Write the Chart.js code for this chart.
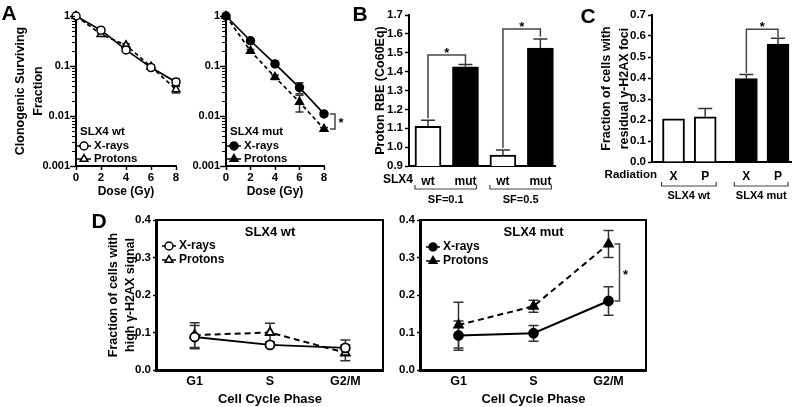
<!DOCTYPE html>
<html><head><meta charset="utf-8">
<script src="https://cdn.jsdelivr.net/npm/chart.js@4.4.1/dist/chart.umd.min.js"></script>
<style>
html,body{margin:0;padding:0;background:#fff;}
#wrap{position:relative;width:800px;height:407px;overflow:hidden;background:#fff;}
#wrap canvas{position:absolute;left:0;top:0;}
.lbl{position:absolute;font-family:'Liberation Sans',Arial,sans-serif;font-weight:bold;color:#000;line-height:1;transform:translate(-50%,-50%);white-space:nowrap;}
</style></head><body>
<div id="wrap">
<canvas id="cA1" width="800" height="407"></canvas>
<canvas id="cA2" width="800" height="407"></canvas>
<canvas id="cB" width="800" height="407"></canvas>
<canvas id="cC" width="800" height="407"></canvas>
<canvas id="cD1" width="800" height="407"></canvas>
<canvas id="cD2" width="800" height="407"></canvas>
<div class="lbl" style="left:9px;top:12px;font-size:21px">A</div>
<div class="lbl" style="left:360px;top:13px;font-size:21px">B</div>
<div class="lbl" style="left:588px;top:15px;font-size:21px">C</div>
<div class="lbl" style="left:99px;top:220px;font-size:21px">D</div>
</div>
<script>
// ---------------- DATA ----------------
// Panel A: clonogenic survival (log scale)
const doses = [0, 2, 4, 6, 8];
const survTicks = [1, 0.1, 0.01, 0.001];
const wtXrays = [1, 0.52, 0.21, 0.093, 0.048];
const wtXraysErr = [0, 0.04, 0.015, 0.008, 0.007];
const wtProtons = [1, 0.43, 0.26, 0.097, 0.034];
const wtProtonsErr = [0, 0.03, 0.02, 0.008, 0.005];
const mutXrays = [1, 0.32, 0.11, 0.037, 0.011];
const mutXraysErr = [0, 0.03, 0.008, 0.009, 0.0008];
const mutProtons = [1, 0.20, 0.060, 0.019, 0.0055];
const mutProtonsErr = [0, 0.015, 0.006, 0.007, 0.0004];

// Panel B: proton RBE
const rbeGenotypes = ['wt', 'mut', 'wt', 'mut'];
const rbeValues = [1.11, 1.426, 0.958, 1.525];
const rbeErr = [0.032, 0.012, 0.027, 0.048];
const rbeGroups = ['SF=0.1', 'SF=0.5'];
const rbeTicks = [0.9, 1.7];

// Panel C: residual gamma-H2AX foci
const fociRadiation = ['X', 'P', 'X', 'P'];
const fociValues = [0.205, 0.215, 0.397, 0.561];
const fociErr = [0, 0.04, 0.02, 0.028];
const fociGroups = ['SLX4 wt', 'SLX4 mut'];

// Panel D: high gamma-H2AX by cell cycle phase
const phases = ['G1', 'S', 'G2/M'];
const dWtXrays = [0.088, 0.067, 0.059];
const dWtXraysErr = [0.031, 0.004, 0.021];
const dWtProtons = [0.093, 0.100, 0.046];
const dWtProtonsErr = [0.033, 0.025, 0.021];
const dMutXrays = [0.092, 0.098, 0.184];
const dMutXraysErr = [0.039, 0.021, 0.038];
const dMutProtons = [0.120, 0.170, 0.336];
const dMutProtonsErr = [0.061, 0.016, 0.036];

// ---------------- SETUP ----------------
const FONT = "'Liberation Sans', Arial, Helvetica, sans-serif";
Chart.defaults.font.family = FONT;
Chart.defaults.font.weight = 'bold';
Chart.defaults.font.size = 11;
Chart.defaults.color = '#000';
Chart.defaults.animation = false;
Chart.defaults.responsive = false;
Chart.defaults.maintainAspectRatio = false;
Chart.defaults.devicePixelRatio = 1;
Chart.defaults.events = [];
Chart.defaults.plugins.legend.display = false;
Chart.defaults.plugins.tooltip.enabled = false;

const W = 800, H = 407;
function layoutFor(a, yW, xH) {
  return { padding: { left: a.l - yW, top: a.t, right: W - a.r, bottom: H - a.b - xH } };
}
const fixW = w => s => { s.width = w; };
const fixH = h => s => { s.height = h; };
const BORDER = { display: true, color: '#000', width: 2 };

function txt(ctx, s, x, y, size, align, base) {
  ctx.save();
  ctx.font = 'bold ' + size + 'px ' + FONT;
  ctx.fillStyle = '#000';
  ctx.textAlign = align || 'center';
  ctx.textBaseline = base || 'middle';
  ctx.fillText(s, x, y);
  ctx.restore();
}
function poly(ctx, pts, color, lw) {
  ctx.save();
  ctx.strokeStyle = color || '#000';
  ctx.lineWidth = lw || 1.5;
  ctx.setLineDash([]);
  ctx.beginPath();
  pts.forEach((p, i) => i ? ctx.lineTo(p[0], p[1]) : ctx.moveTo(p[0], p[1]));
  ctx.stroke();
  ctx.restore();
}
function sigOver(ctx, x1, x2, yLine, y1, y2) {
  poly(ctx, [[x1, y1], [x1, yLine], [x2, yLine], [x2, y2]], '#444', 1.5);
  txt(ctx, '*', (x1 + x2) / 2, yLine + 2, 13, 'center', 'alphabetic');
}
function sigSide(ctx, x, y1, y2) {
  poly(ctx, [[x - 5, y1], [x, y1], [x, y2], [x - 5, y2]], '#444', 1.5);
  txt(ctx, '*', x + 6, (y1 + y2) / 2 + 6, 13, 'center', 'alphabetic');
}
function groupBracket(ctx, xa, xb, y, label, ty) {
  poly(ctx, [[xa, y - 4], [xa, y], [xb, y], [xb, y - 4]], '#444', 1.2);
  txt(ctx, label, (xa + xb) / 2, ty, 11);
}
function legendRow(ctx, mx, tx, y, style, filled, dashed, label, size) {
  poly(ctx, [[mx - 7, y], [mx + 7, y]], '#000', 1.5);
  ctx.save();
  ctx.fillStyle = filled ? '#000' : '#fff';
  ctx.strokeStyle = '#000';
  ctx.lineWidth = 1.5;
  Chart.helpers.drawPoint(ctx, { pointStyle: style, radius: style === 'triangle' ? 4.5 : 4, borderWidth: 1.5, rotation: 0 }, mx, y);
  ctx.restore();
  txt(ctx, label, tx, y, size, 'left');
}

const errorBarPlugin = {
  id: 'errorBars',
  beforeDatasetsDraw(chart) {
    const ctx = chart.ctx, ys = chart.scales.y;
    chart.data.datasets.forEach((ds, i) => {
      if (!ds.yErr) return;
      const meta = chart.getDatasetMeta(i);
      ctx.save();
      ctx.strokeStyle = ds.errColor || '#333';
      ctx.lineWidth = 1.5;
      ctx.setLineDash([]);
      meta.data.forEach((el, j) => {
        const e = ds.yErr[j];
        if (!e) return;
        const raw = ds.data[j];
        const v = (raw && typeof raw === 'object') ? raw.y : raw;
        const x = el.x;
        const yc = ys.getPixelForValue(v);
        const yh = ys.getPixelForValue(v + e);
        const yl = ds.errUpOnly ? yc : ys.getPixelForValue(v - e);
        const cw = ds.capHalf || 5;
        ctx.beginPath();
        ctx.moveTo(x, yl); ctx.lineTo(x, yh);
        ctx.moveTo(x - cw, yh); ctx.lineTo(x + cw, yh);
        if (!ds.errUpOnly) { ctx.moveTo(x - cw, yl); ctx.lineTo(x + cw, yl); }
        ctx.stroke();
      });
      ctx.restore();
    });
  }
};

function isDecade(v) { const l = Math.log10(v); return Math.abs(l - Math.round(l)) < 1e-9; }
function logTicks(scale) {
  const t = [];
  for (let e = -3; e <= 0; e++) {
    for (let m = 1; m <= 9; m++) {
      t.push({ value: m * Math.pow(10, e) });
      if (e === 0) break;
    }
  }
  scale.ticks = t;
}
function logLabel(v) {
  if (!isDecade(v)) return '';
  const s = survTicks.find(s => Math.abs(s - v) < s * 1e-6);
  return s === undefined ? '' : String(s);
}
const logMinorTicks = {
  id: 'logMinorTicks',
  afterDraw(chart) {
    const ys = chart.scales.y, ctx = chart.ctx, x0 = chart.chartArea.left - 1;
    ys.ticks.forEach(t => {
      const py = Math.round(ys.getPixelForValue(t.value)) + 0.5;
      const len = isDecade(t.value) ? 5 : 3;
      poly(ctx, [[x0 - len, py], [x0, py]], '#000', isDecade(t.value) ? 1.5 : 1);
    });
  }
};

function survDatasets(xr, xrErr, pr, prErr, filled) {
  return [
    { label: 'X-rays', data: doses.map((d, i) => ({ x: d, y: xr[i] })), yErr: xrErr, capHalf: 4,
      borderColor: '#000', borderWidth: 1.7, pointStyle: 'circle', pointRadius: 4,
      pointBackgroundColor: filled ? '#000' : '#fff', pointBorderColor: '#000', pointBorderWidth: 1.5, clip: 10 },
    { label: 'Protons', data: doses.map((d, i) => ({ x: d, y: pr[i] })), yErr: prErr, capHalf: 4,
      borderColor: '#000', borderWidth: 1.7, borderDash: [4, 3], pointStyle: 'triangle', pointRadius: 4.5,
      pointBackgroundColor: filled ? '#000' : '#fff', pointBorderColor: '#000', pointBorderWidth: 1.5, clip: 10 }
  ];
}
function survScales(yW, xH, yTitle) {
  return {
    x: { type: 'linear', min: 0, max: 8,
      ticks: { stepSize: 2, padding: 1, font: { size: 11.5 } },
      grid: { drawOnChartArea: false, tickLength: 4, tickColor: '#000', tickWidth: 1.5 },
      border: BORDER,
      title: { display: true, text: 'Dose (Gy)', font: { size: 12 }, padding: 0 },
      afterFit: fixH(xH) },
    y: { type: 'logarithmic', min: 0.001, max: 1, afterBuildTicks: logTicks,
      ticks: { callback: logLabel, padding: 6, autoSkip: false, font: { size: 11 } },
      grid: { drawOnChartArea: false, drawTicks: false },
      border: BORDER,
      title: { display: !!yTitle, text: yTitle || '', font: { size: 12.5, lineHeight: 1.45 }, padding: 0 },
      afterFit: fixW(yW) }
  };
}

// ---------------- PANEL A (wt) ----------------
const aA1 = { l: 76, t: 16, r: 176, b: 166 };
new Chart(document.getElementById('cA1'), {
  type: 'line',
  data: { datasets: survDatasets(wtXrays, wtXraysErr, wtProtons, wtProtonsErr, false) },
  options: { layout: layoutFor(aA1, 65, 33), scales: survScales(65, 33, ['Clonogenic Surviving', 'Fraction']) },
  plugins: [errorBarPlugin, logMinorTicks, { id: 'legA1', afterDraw(c) {
    const ctx = c.ctx, L = c.chartArea.left;
    txt(ctx, 'SLX4 wt', L + 4, 132, 11.5, 'left');
    legendRow(ctx, L + 8, L + 18, 146, 'circle', false, false, 'X-rays', 11.5);
    legendRow(ctx, L + 8, L + 18, 159, 'triangle', false, true, 'Protons', 11.5);
  } }]
});

// ---------------- PANEL A (mut) ----------------
const aA2 = { l: 226, t: 16, r: 324, b: 166 };
new Chart(document.getElementById('cA2'), {
  type: 'line',
  data: { datasets: survDatasets(mutXrays, mutXraysErr, mutProtons, mutProtonsErr, true) },
  options: { layout: layoutFor(aA2, 45, 33), scales: survScales(45, 33, null) },
  plugins: [errorBarPlugin, logMinorTicks, { id: 'legA2', afterDraw(c) {
    const ctx = c.ctx, L = c.chartArea.left, xs = c.scales.x, ys = c.scales.y;
    txt(ctx, 'SLX4 mut', L + 4, 132, 11.5, 'left');
    legendRow(ctx, L + 8, L + 18, 146, 'circle', true, false, 'X-rays', 11.5);
    legendRow(ctx, L + 8, L + 18, 159, 'triangle', true, true, 'Protons', 11.5);
    const n = doses.length - 1;
    sigSide(ctx, xs.getPixelForValue(doses[n]) + 11, ys.getPixelForValue(mutXrays[n]), ys.getPixelForValue(mutProtons[n]));
  } }]
});

// ---------------- PANEL B ----------------
const aB = { l: 409, t: 15, r: 555, b: 166 };
const posB = rbeGenotypes.map((_, i) => i);
new Chart(document.getElementById('cB'), {
  type: 'bar',
  data: { datasets: [{
    data: posB.map((p, i) => ({ x: p, y: rbeValues[i] })),
    backgroundColor: rbeGenotypes.map(g => g === 'wt' ? '#fff' : '#000'),
    borderColor: '#000', borderWidth: 2, barThickness: 26,
    yErr: rbeErr, errUpOnly: true, capHalf: 7, errColor: '#333'
  }] },
  options: {
    layout: layoutFor(aB, 38, 30),
    scales: {
      x: { type: 'linear', min: -0.507, max: 3.39, offset: false,
        afterBuildTicks: s => { s.ticks = posB.map(v => ({ value: v })); },
        ticks: { autoSkip: false, padding: 8, font: { size: 12 }, callback: (v, i) => rbeGenotypes[i] },
        grid: { drawOnChartArea: false, drawTicks: false, offset: false },
        border: BORDER, afterFit: fixH(30) },
      y: { min: rbeTicks[0], max: rbeTicks[1],
        ticks: { stepSize: 0.1, padding: 2, font: { size: 11.5 }, callback: v => v.toFixed(1) },
        grid: { drawOnChartArea: false, tickLength: 4, tickColor: '#000', tickWidth: 1.5 },
        border: BORDER,
        title: { display: true, text: 'Proton RBE (Co60Eq)', font: { size: 12.5, lineHeight: 1.45 }, padding: 0 },
        afterFit: fixW(38) }
    }
  },
  plugins: [errorBarPlugin, { id: 'extB', afterDraw(c) {
    const ctx = c.ctx, xs = c.scales.x, ys = c.scales.y, L = c.chartArea.left;
    const px = posB.map(p => xs.getPixelForValue(p));
    txt(ctx, 'SLX4', L + 4, 180, 12, 'right');
    groupBracket(ctx, px[0] - 13, px[1] + 11, 189, rbeGroups[0], 200);
    groupBracket(ctx, px[2] - 13, px[3] + 11, 189, rbeGroups[1], 200);
    sigOver(ctx, px[0], px[1], ys.getPixelForValue(1.488), ys.getPixelForValue(1.153), ys.getPixelForValue(1.44));
    sigOver(ctx, px[2], px[3], ys.getPixelForValue(1.626), ys.getPixelForValue(0.995), ys.getPixelForValue(1.585));
  } }]
});

// ---------------- PANEL C ----------------
const aC = { l: 652, t: 15, r: 791, b: 162 };
const posC = fociRadiation.map((_, i) => i + (i >= 2 ? 0.3 : 0));
new Chart(document.getElementById('cC'), {
  type: 'bar',
  data: { datasets: [{
    data: posC.map((p, i) => ({ x: p, y: fociValues[i] })),
    backgroundColor: posC.map((_, i) => i < 2 ? '#fff' : '#000'),
    borderColor: '#000', borderWidth: 2, barThickness: 22,
    yErr: fociErr, errUpOnly: true, capHalf: 7, errColor: '#333'
  }] },
  options: {
    layout: layoutFor(aC, 54, 30),
    scales: {
      x: { type: 'linear', min: -0.68, max: 3.71, offset: false,
        afterBuildTicks: s => { s.ticks = posC.map(v => ({ value: v })); },
        ticks: { autoSkip: false, padding: 7, font: { size: 12 }, callback: (v, i) => fociRadiation[i] },
        grid: { drawOnChartArea: false, drawTicks: false, offset: false },
        border: BORDER, afterFit: fixH(30) },
      y: { min: 0, max: 0.7,
        ticks: { stepSize: 0.1, padding: 2, font: { size: 11.5 }, callback: v => v.toFixed(1) },
        grid: { drawOnChartArea: false, tickLength: 4, tickColor: '#000', tickWidth: 1.5 },
        border: BORDER,
        title: { display: true, text: ['Fraction of cells with', 'residual \u03B3-H2AX foci'], font: { size: 12.5, lineHeight: 1.4 }, padding: 0 },
        afterFit: fixW(54) }
    }
  },
  plugins: [errorBarPlugin, { id: 'extC', afterDraw(c) {
    const ctx = c.ctx, xs = c.scales.x, ys = c.scales.y, L = c.chartArea.left;
    const px = posC.map(p => xs.getPixelForValue(p));
    txt(ctx, 'Radiation', L + 5, 175, 11.5, 'right');
    groupBracket(ctx, px[0] - 12, px[1] + 11, 186, fociGroups[0], 196);
    groupBracket(ctx, px[2] - 12, px[3] + 10, 186, fociGroups[1], 196);
    sigOver(ctx, px[2], px[3], ys.getPixelForValue(0.632), ys.getPixelForValue(0.424), ys.getPixelForValue(0.594));
  } }]
});

// ---------------- PANEL D ----------------
function phaseDatasets(xr, xrErr, pr, prErr, filled) {
  return [
    { label: 'X-rays', data: xr, yErr: xrErr, capHalf: 5,
      borderColor: '#000', borderWidth: 2, pointStyle: 'circle', pointRadius: 4.5,
      pointBackgroundColor: filled ? '#000' : '#fff', pointBorderColor: '#000', pointBorderWidth: 1.8 },
    { label: 'Protons', data: pr, yErr: prErr, capHalf: 5,
      borderColor: '#000', borderWidth: 2, borderDash: [6, 4], pointStyle: 'triangle', pointRadius: 5,
      pointBackgroundColor: filled ? '#000' : '#fff', pointBorderColor: '#000', pointBorderWidth: 1.8 }
  ];
}
function phaseScales(yW, xH, yTitle) {
  return {
    x: { type: 'category', offset: true,
      ticks: { padding: 4, font: { size: 12.5 } },
      grid: { drawOnChartArea: false, drawTicks: false, offset: true },
      border: BORDER,
      title: { display: true, text: 'Cell Cycle Phase', font: { size: 13 }, padding: 0 },
      afterFit: fixH(xH) },
    y: { min: 0, max: 0.4,
      ticks: { stepSize: 0.1, padding: 2, font: { size: 11.5 }, callback: v => v.toFixed(1) },
      grid: { drawOnChartArea: false, tickLength: 4, tickColor: '#000', tickWidth: 1.5 },
      border: BORDER,
      title: { display: !!yTitle, text: yTitle || '', font: { size: 12.5, lineHeight: 1.35 }, padding: 0 },
      afterFit: fixW(yW) }
  };
}
const boxPlugin = { id: 'box', afterDraw(c) {
  const a = c.chartArea, ctx = c.ctx;
  ctx.save(); ctx.strokeStyle = '#000'; ctx.lineWidth = 2;
  ctx.strokeRect(a.left - 1, a.top, a.right - a.left + 1, a.bottom - a.top + 1);
  ctx.restore();
} };

const aD1 = { l: 157, t: 220, r: 383, b: 370 };
new Chart(document.getElementById('cD1'), {
  type: 'line',
  data: { labels: phases, datasets: phaseDatasets(dWtXrays, dWtXraysErr, dWtProtons, dWtProtonsErr, false) },
  options: { layout: layoutFor(aD1, 52, 37), scales: phaseScales(52, 37, ['Fraction of cells with', 'high \u03B3-H2AX signal']) },
  plugins: [errorBarPlugin, boxPlugin, { id: 'extD1', afterDraw(c) {
    const ctx = c.ctx, a = c.chartArea;
    txt(ctx, 'SLX4 wt', (a.left + a.right) / 2, 232, 13);
    legendRow(ctx, a.left + 12, a.left + 22, 246, 'circle', false, false, 'X-rays', 12);
    legendRow(ctx, a.left + 12, a.left + 22, 260, 'triangle', false, true, 'Protons', 12);
  } }]
});

const aD2 = { l: 421, t: 220, r: 646, b: 370 };
new Chart(document.getElementById('cD2'), {
  type: 'line',
  data: { labels: phases, datasets: phaseDatasets(dMutXrays, dMutXraysErr, dMutProtons, dMutProtonsErr, true) },
  options: { layout: layoutFor(aD2, 30, 37), scales: phaseScales(30, 37, null) },
  plugins: [errorBarPlugin, boxPlugin, { id: 'extD2', afterDraw(c) {
    const ctx = c.ctx, a = c.chartArea, xs = c.scales.x, ys = c.scales.y;
    txt(ctx, 'SLX4 mut', (a.left + a.right) / 2, 232, 13);
    legendRow(ctx, a.left + 12, a.left + 22, 247, 'circle', true, false, 'X-rays', 12);
    legendRow(ctx, a.left + 12, a.left + 22, 261, 'triangle', true, true, 'Protons', 12);
    const n = phases.length - 1;
    sigSide(ctx, xs.getPixelForValue(n) + 11, ys.getPixelForValue(dMutProtons[n]), ys.getPixelForValue(dMutXrays[n]));
  } }]
});
</script>
</body></html>
